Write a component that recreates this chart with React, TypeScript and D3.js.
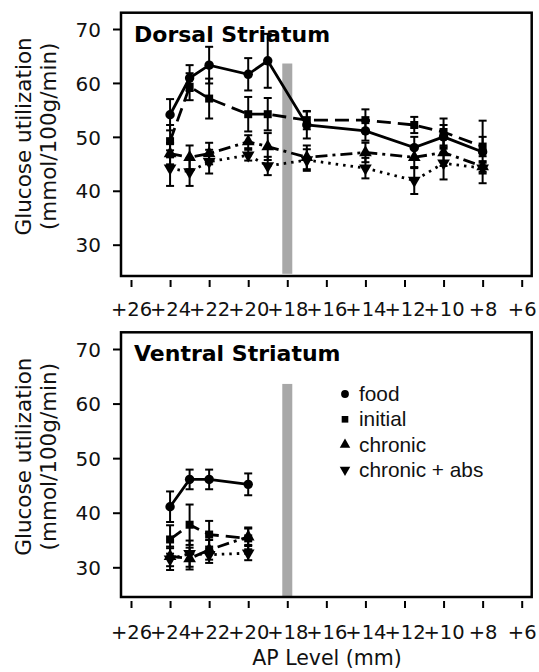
import React, { useEffect, useRef } from 'react';
import * as d3 from 'd3';

// AP levels (mm) and glucose utilization
const apDorsal = [24, 23, 22, 20, 19, 17, 14, 11.5, 10, 8];
const foodDorsal = [54.1, 60.9, 63.3, 61.6, 64.1, 52.2, 51.1, 48.0, 50.0, 47.2];
const foodDorsalErr = [2.9, 2.4, 3.4, 3.0, 5.0, 2.5, 1.8, 2.0, 2.2, 5.8];
const initialDorsal = [49.2, 59.3, 57.1, 54.2, 54.2, 53.1, 53.1, 52.2, 50.9, 48.2];
const initialDorsalErr = [3.0, 2.5, 3.7, 3.2, 3.0, 1.7, 2.0, 1.5, 2.5, 1.8];
const chronicDorsal = [46.9, 46.2, 46.9, 49.1, 48.2, 46.2, 47.1, 46.2, 47.1, 44.5];
const chronicDorsalErr = [2.0, 2.2, 2.0, 1.2, 2.5, 2.2, 1.8, 2.0, 2.5, 1.0];
const absDorsal = [44.2, 43.5, 45.4, 46.6, 44.6, 45.7, 44.2, 41.9, 45.1, 44.2];
const absDorsalErr = [3.3, 2.6, 2.2, 1.0, 1.7, 2.0, 1.9, 2.5, 3.0, 1.0];

const apVentral = [24, 23, 22, 20];
const foodVentral = [41.1, 46.1, 46.1, 45.2];
const foodVentralErr = [2.8, 1.8, 1.8, 2.0];
const initialVentral = [35.1, 37.8, 36.0, 35.3];
const initialVentralErr = [2.6, 3.7, 2.5, 2.0];
const chronicVentral = [32.0, 31.6, 33.2, 35.6];
const chronicVentralErr = [1.8, 2.0, 1.8, 1.5];
const absVentral = [31.5, 32.5, 32.3, 32.6];
const absVentralErr = [2.0, 2.4, 1.5, 1.3];

const xTicks = [26, 24, 22, 20, 18, 16, 14, 12, 10, 8, 6];
const yTicks = [30, 40, 50, 60, 70];
const shadeAt = 18;
const shadeRange = [24.6, 63.6];

const seriesNames = ['food', 'initial', 'chronic', 'chronic + abs'];
const symbols = [d3.symbolCircle, d3.symbolSquare, d3.symbolTriangle, d3.symbolTriangle];
const dashes = [null, '14,7', '12,5,3,5', '2.5,5'];

const panels = [
  {
    title: 'Dorsal Striatum',
    top: 12.7, bottom: 276, y70: 29, y30: 244.7, tickLabelY: 316,
    ap: apDorsal,
    series: [
      [foodDorsal, foodDorsalErr],
      [initialDorsal, initialDorsalErr],
      [chronicDorsal, chronicDorsalErr],
      [absDorsal, absDorsalErr],
    ],
    legend: false,
  },
  {
    title: 'Ventral Striatum',
    top: 332.3, bottom: 597, y70: 349, y30: 567.3, tickLabelY: 638.5,
    ap: apVentral,
    series: [
      [foodVentral, foodVentralErr],
      [initialVentral, initialVentralErr],
      [chronicVentral, chronicVentralErr],
      [absVentral, absVentralErr],
    ],
    legend: true,
  },
];

const App = () => {
  const ref = useRef<SVGSVGElement>(null);

  useEffect(() => {
    const svg = d3.select(ref.current);
    svg.selectAll('*').remove();

    const left = 121;
    const right = 531.7;
    const x = d3.scaleLinear().domain([26, 6]).range([131, 521.7]);
    const font = '"DejaVu Sans", Verdana, sans-serif';

    panels.forEach((p) => {
      const y = d3.scaleLinear().domain([30, 70]).range([p.y30, p.y70]);
      const g = svg.append('g');

      // shaded bar at +18
      g.append('rect')
        .attr('x', x(shadeAt) - 5)
        .attr('width', 10)
        .attr('y', y(shadeRange[1]))
        .attr('height', y(shadeRange[0]) - y(shadeRange[1]))
        .attr('fill', '#a8a8a8');

      // y axis
      const yAxis = g.append('g').attr('transform', `translate(${left},0)`)
        .call(d3.axisLeft(y).tickValues(yTicks).tickSize(8).tickPadding(4).tickFormat(d3.format('d')));
      yAxis.select('.domain').remove();
      yAxis.selectAll('line').attr('stroke', '#000').attr('stroke-width', 2);
      yAxis.selectAll('text').attr('font-size', 20).attr('font-family', font).attr('fill', '#111')
        .attr('x', -20).attr('dy', '0.36em');

      // x axis ticks below the box
      const xAxis = g.append('g').attr('transform', `translate(0,${p.bottom + 4})`)
        .call(d3.axisBottom(x).tickValues(xTicks).tickSize(7).tickFormat((d) => `+${d}`));
      xAxis.select('.domain').remove();
      xAxis.selectAll('line').attr('stroke', '#000').attr('stroke-width', 2);
      xAxis.selectAll('text').attr('font-size', 19.5).attr('font-family', font).attr('fill', '#111')
        .attr('y', null).attr('dy', null)
        .attr('transform', `translate(0,${p.tickLabelY - p.bottom - 4})`);

      // frame
      g.append('rect')
        .attr('x', left).attr('y', p.top)
        .attr('width', right - left).attr('height', p.bottom - p.top)
        .attr('fill', 'none').attr('stroke', '#000').attr('stroke-width', 2.5);

      // title
      g.append('text')
        .attr('x', 134).attr('y', p.top + 29)
        .attr('font-family', font).attr('font-weight', 'bold').attr('font-size', 22)
        .text(p.title);

      // y label
      const cy = (p.top + p.bottom) / 2 - 8;
      const yl = g.append('text')
        .attr('transform', `translate(0,${cy}) rotate(-90)`)
        .attr('text-anchor', 'middle').attr('font-family', font).attr('font-size', 21.5).attr('fill', '#111');
      yl.append('tspan').attr('x', 0).attr('y', 31).text('Glucose utilization');
      yl.append('tspan').attr('x', 0).attr('y', 56).text('(mmol/100g/min)');

      // series
      p.series.forEach(([vals, errs], si) => {
        const pts = p.ap.map((a, i) => ({ a, v: vals[i], e: errs[i] }));
        const line = d3.line<any>().x((d) => x(d.a)).y((d) => y(d.v));
        g.append('path')
          .attr('d', line(pts))
          .attr('fill', 'none').attr('stroke', '#000').attr('stroke-width', 2.8)
          .attr('stroke-dasharray', dashes[si]);

        const eb = g.append('g').attr('stroke', '#000').attr('stroke-width', 2);
        pts.forEach((d) => {
          const cx = x(d.a);
          eb.append('line').attr('x1', cx).attr('x2', cx).attr('y1', y(d.v + d.e)).attr('y2', y(d.v - d.e));
          eb.append('line').attr('x1', cx - 4).attr('x2', cx + 4).attr('y1', y(d.v + d.e)).attr('y2', y(d.v + d.e));
          eb.append('line').attr('x1', cx - 4).attr('x2', cx + 4).attr('y1', y(d.v - d.e)).attr('y2', y(d.v - d.e));
        });

        const sym = d3.symbol().type(symbols[si]).size(si === 1 ? 64 : 70);
        g.selectAll(null).data(pts).enter().append('path')
          .attr('d', sym)
          .attr('transform', (d) => `translate(${x(d.a)},${y(d.v)})${si === 3 ? ' rotate(180)' : ''}`)
          .attr('fill', '#000');
      });

      if (p.legend) {
        const lg = g.append('g');
        seriesNames.forEach((name, i) => {
          const ly = 394 + i * 25.3;
          const sym = d3.symbol().type(symbols[i]).size(i === 1 ? 44 : 48);
          lg.append('path').attr('d', sym)
            .attr('transform', `translate(345,${ly})${i === 3 ? ' rotate(180)' : ''}`)
            .attr('fill', '#000');
          lg.append('text').attr('x', 359).attr('y', ly + 7)
            .attr('font-family', '"Liberation Sans", Arial, sans-serif').attr('font-size', 20.8)
            .attr('fill', '#111').text(name);
        });
      }
    });

    svg.append('text')
      .attr('x', 327).attr('y', 665)
      .attr('text-anchor', 'middle').attr('font-family', font).attr('font-size', 20.5).attr('fill', '#111')
      .text('AP Level (mm)');
  }, []);

  return (
    <svg
      ref={ref}
      width={539}
      height={672}
      style={{ position: 'absolute', left: 0, top: 0, background: '#fff' }}
    />
  );
};

export default App;
